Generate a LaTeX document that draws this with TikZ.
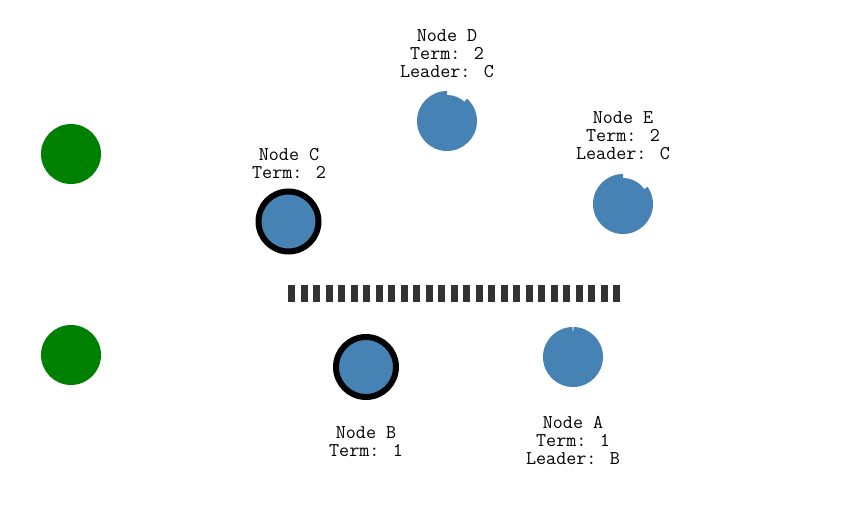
\documentclass[tikz,border=0pt]{standalone}
\usepackage{tikz}
\definecolor{peerblue}{RGB}{70,130,180}
\definecolor{idlegreen}{RGB}{0,128,0}
\definecolor{wallgray}{RGB}{51,51,51}

\begin{document}
\begin{tikzpicture}[x=1pt, y=1pt,
    server/.style = {circle, inner sep=0pt, minimum size=60pt, fill=peerblue},
    leaderring/.style = {server, draw=black, line width=6pt},
    client/.style = {circle, inner sep=0pt, minimum size=60pt, fill=idlegreen},
    core/.style = {circle, inner sep=0pt, minimum size=52pt, fill=peerblue},
    caption/.style = {align=center, inner sep=0pt, text=black,
      font=\ttfamily\fontsize{19.5}{18}\selectfont},
    partition/.style = {wallgray, line width=17pt, dash pattern=on 6.7pt off 5.8pt}]
  \useasboundingbox (0, 0) rectangle (845, 522);
  % clients on the left
  \node [client] (GA) at (71, 368) {};
  \node [client] (GB) at (71, 167) {};
  % servers
  \node [leaderring] (C) at (288.5, 300.5) {};
  \node [leaderring] (B) at (366, 155) {};
  \node [core] (D) at (447, 401) {};
  \node [core] (E) at (623, 318) {};
  \node [core] (A) at (573, 165) {};
  \fill [peerblue] (D.center) -- ++(90:30) arc (90:408:30) -- cycle;
  \fill [peerblue] (E.center) -- ++(90:30) arc (90:395:30) -- cycle;
  \fill [peerblue] (A.center) -- ++(91:30) arc (91:449:30) -- cycle;
  % captions
  \node [caption] (LD) at (447, 468) {Node D\\Term: 2\\Leader: C};
  \node [caption] (LE) at (623, 386) {Node E\\Term: 2\\Leader: C};
  \node [caption] (LC) at (289, 358.5) {Node C\\Term: 2};
  \node [caption] (LB) at (366, 80) {Node B\\Term: 1};
  \node [caption] (LA) at (573, 82) {Node A\\Term: 1\\Leader: B};
  % network partition
  \coordinate (PL) at (288.3, 228.5);
  \coordinate (PR) at (620, 228.5);
  \draw [partition] (PL) -- (PR);
\end{tikzpicture}
\end{document}
